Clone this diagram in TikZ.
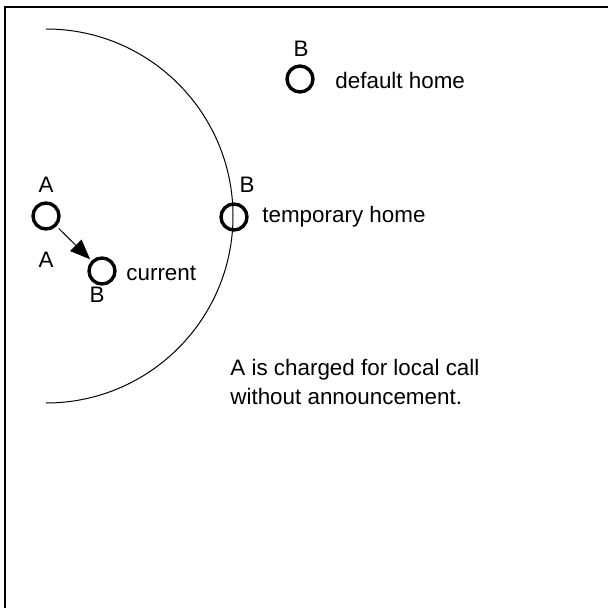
\documentclass[tikz,border=0pt]{standalone}
\usepackage{fontspec}
\setmainfont{Liberation Sans}
\usetikzlibrary{arrows.meta}

\begin{document}
\begin{tikzpicture}[x=0.5pt, y=-0.5pt,
  font=\fontsize{11.2}{14.3}\selectfont,
  site/.style={draw, circle, line width=1.7pt, minimum size=13pt, inner sep=0pt},
  lbl/.style={inner sep=0pt},
  txt/.style={inner sep=0pt, anchor=base west, align=left}]
\useasboundingbox (0,0) rectangle (608,608);

% frame
\draw[line width=1pt] (5,608) -- (5,7) -- (608,7);

% local area
\draw[line width=0.5pt] (46,29) arc[start angle=-90, end angle=90, radius=187];

% sites
\node[site] (a)    at (46,216)  {};
\node[site] (cur)  at (102,271) {};
\node[site] (tmp)  at (234,217) {};
\node[site] (dflt) at (300,79)  {};

\node[lbl] (a1) at (46,185)  {A};
\node[lbl] (a2) at (46,260)  {A};
\node[lbl] (b1) at (97,295)  {B};
\node[lbl] (b2) at (247,185) {B};
\node[lbl] (b3) at (301,49)  {B};

\node[txt] (curtxt)  at (126,280) {current};
\node[txt] (tmptxt)  at (262,223) {temporary home};
\node[txt] (dflttxt) at (335,89)  {default home};
% base of a two-line node is the last line
\node[txt] (note)    at (230,404) {A is charged for local call\\without announcement.};

% call
\draw[line width=0.5pt, -{Triangle[length=10pt, width=8pt]},
  shorten <=1.5pt, shorten >=1pt] (a) -- (cur);

\end{tikzpicture}
\end{document}
